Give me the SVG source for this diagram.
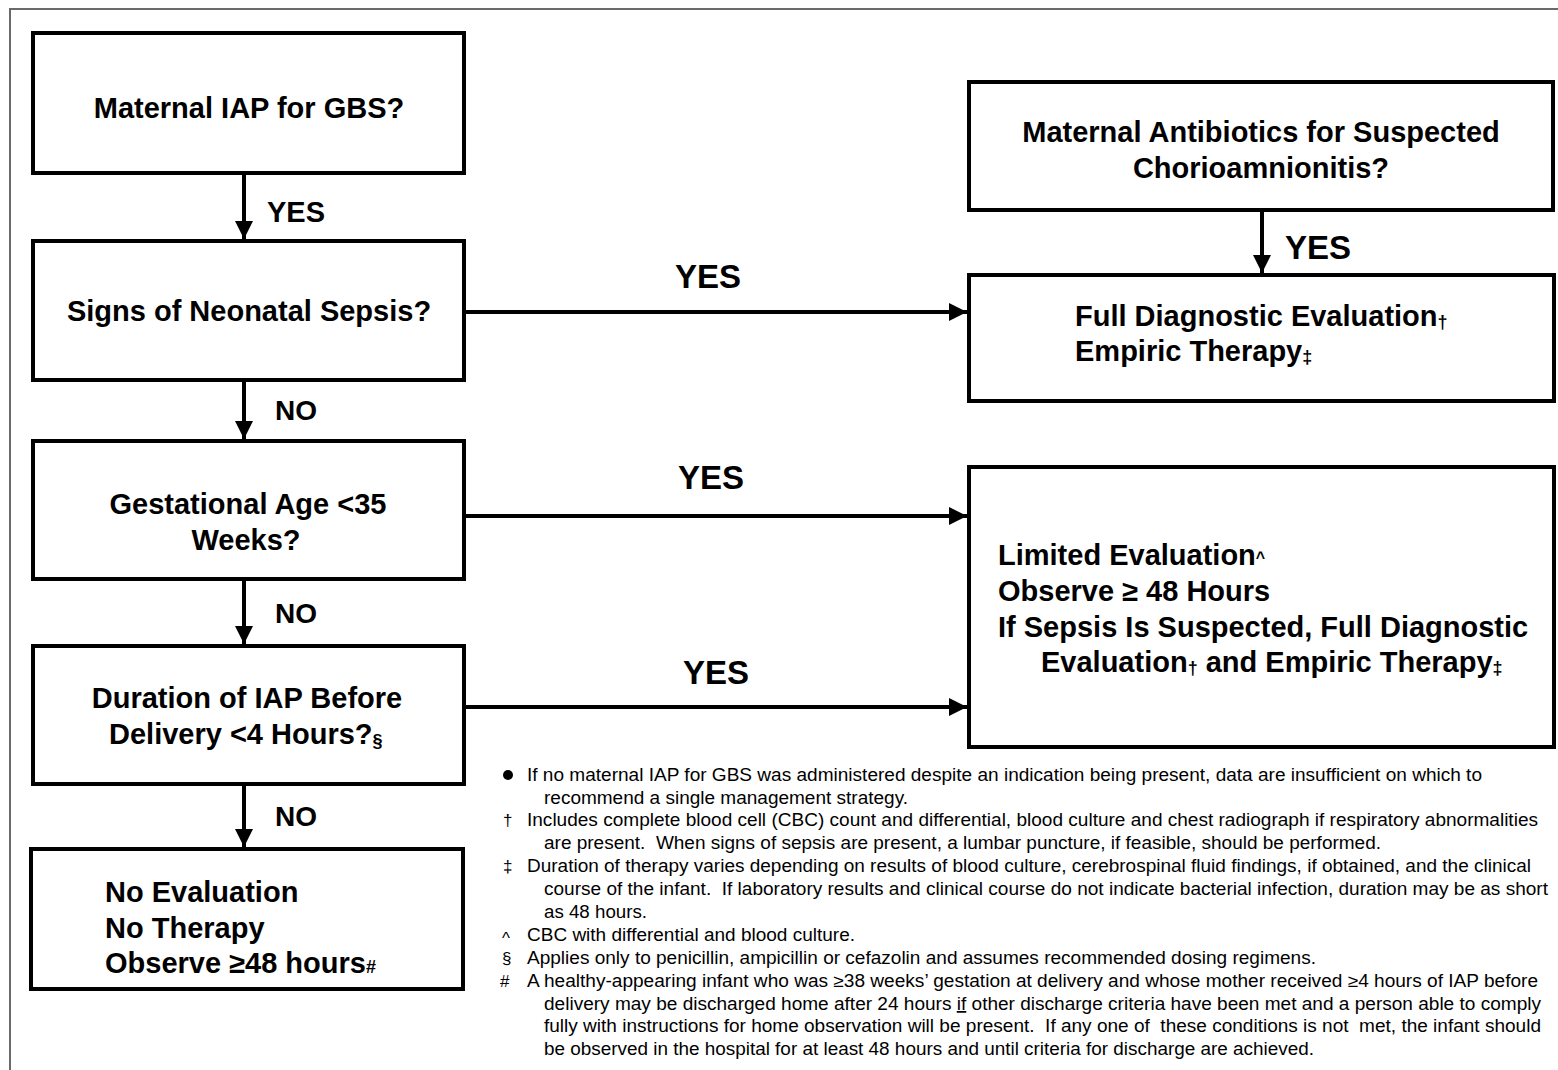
<svg xmlns="http://www.w3.org/2000/svg" width="1558" height="1070" viewBox="0 0 1558 1070">
<style>
.box{fill:#fff;stroke:#000;stroke-width:4}
.t{font-family:"Liberation Sans",Arial,sans-serif;font-weight:bold;font-size:29px;fill:#000}
.c{text-anchor:middle}
.lbl{font-family:"Liberation Sans",Arial,sans-serif;font-weight:bold;fill:#000}
.fn{font-family:"Liberation Sans Narrow","Liberation Sans",Arial,sans-serif;font-size:17.5px;fill:#000}
.mk{font-family:"Liberation Sans","DejaVu Sans",sans-serif;font-size:17px;fill:#000}
.con{stroke:#000;stroke-width:4;fill:none}
</style>
<defs>
<marker id="ah" markerUnits="userSpaceOnUse" markerWidth="18" markerHeight="18" refX="18" refY="9" orient="auto">
<path d="M0,0 L18,9 L0,18 z" fill="#000"/>
</marker>
</defs>
<rect width="1558" height="1070" fill="#fff"/>
<path d="M10,1070 V9 H1558" fill="none" stroke="#6a6a6a" stroke-width="2"/>

<g id="connectors">
<line class="con" x1="244" y1="175" x2="244" y2="239" marker-end="url(#ah)"/>
<line class="con" x1="244" y1="381" x2="244" y2="439" marker-end="url(#ah)"/>
<line class="con" x1="244" y1="581" x2="244" y2="644" marker-end="url(#ah)"/>
<line class="con" x1="244" y1="786" x2="244" y2="847" marker-end="url(#ah)"/>
<line class="con" x1="1262" y1="212" x2="1262" y2="273" marker-end="url(#ah)"/>
<line class="con" x1="466" y1="312" x2="967" y2="312" marker-end="url(#ah)"/>
<line class="con" x1="466" y1="516" x2="967" y2="516" marker-end="url(#ah)"/>
<line class="con" x1="466" y1="707" x2="967" y2="707" marker-end="url(#ah)"/>
<text class="lbl" x="267" y="222" font-size="29">YES</text>
<text class="lbl" x="275" y="420" font-size="28">NO</text>
<text class="lbl" x="275" y="623" font-size="28">NO</text>
<text class="lbl" x="275" y="826" font-size="28">NO</text>
<text class="lbl" x="1285" y="259" font-size="33">YES</text>
<text class="lbl" x="708" y="288" font-size="33" text-anchor="middle">YES</text>
<text class="lbl" x="711" y="489" font-size="33" text-anchor="middle">YES</text>
<text class="lbl" x="716" y="684" font-size="33" text-anchor="middle">YES</text>
</g>

<g id="n1">
<rect class="box" x="33" y="33" width="431" height="140"/>
<text class="t c" x="249" y="118">Maternal IAP for GBS?</text>
</g>
<g id="n2">
<rect class="box" x="33" y="241" width="431" height="139"/>
<text class="t c" x="249" y="321">Signs of Neonatal Sepsis?</text>
</g>
<g id="n3">
<rect class="box" x="33" y="441" width="431" height="138"/>
<text class="t c" x="248" y="514">Gestational Age &lt;35</text>
<text class="t c" x="246" y="550">Weeks?</text>
</g>
<g id="n4">
<rect class="box" x="33" y="646" width="431" height="138"/>
<text class="t c" x="247" y="708">Duration of IAP Before</text>
<text class="t" x="109" y="744">Delivery &lt;4 Hours?<tspan font-size="18" dy="3">§</tspan></text>
</g>
<g id="n5">
<rect class="box" x="31" y="849" width="432" height="140"/>
<text class="t" x="105" y="902">No Evaluation</text>
<text class="t" x="105" y="938">No Therapy</text>
<text class="t" x="105" y="973">Observe ≥48 hours<tspan font-size="18">#</tspan></text>
</g>
<g id="r1">
<rect class="box" x="969" y="82" width="584" height="128"/>
<text class="t c" x="1261" y="142">Maternal Antibiotics for Suspected</text>
<text class="t c" x="1261" y="178">Chorioamnionitis?</text>
</g>
<g id="r2">
<rect class="box" x="969" y="275" width="585" height="126"/>
<text class="t" x="1075" y="326">Full Diagnostic Evaluation<tspan font-size="18" dy="2">†</tspan></text>
<text class="t" x="1075" y="361">Empiric Therapy<tspan font-size="18" dy="2">‡</tspan></text>
</g>
<g id="r3">
<rect class="box" x="969" y="467" width="585" height="280"/>
<text class="t" x="998" y="565">Limited Evaluation<tspan font-size="16" dy="-2">^</tspan></text>
<text class="t" x="998" y="601">Observe ≥ 48 Hours</text>
<text class="t" x="998" y="637">If Sepsis Is Suspected, Full Diagnostic</text>
<text class="t" x="1041" y="672">Evaluation<tspan font-size="18" dy="2">†</tspan><tspan dy="-2"> and Empiric Therapy</tspan><tspan font-size="18" dy="2">‡</tspan></text>
</g>

<g id="footnotes">
<circle cx="508" cy="775" r="5" fill="#000"/>
<text class="mk" x="503" y="826">†</text>
<text class="mk" x="503" y="872">‡</text>
<text class="mk" x="502" y="944">^</text>
<text class="mk" x="502" y="964">§</text>
<text class="mk" x="500" y="987">#</text>
<text class="fn" x="527" y="781" textLength="955" lengthAdjust="spacingAndGlyphs">If no maternal IAP for GBS was administered despite an indication being present, data are insufficient on which to</text>
<text class="fn" x="544" y="804" textLength="364" lengthAdjust="spacingAndGlyphs">recommend a single management strategy.</text>
<text class="fn" x="527" y="826" textLength="1011" lengthAdjust="spacingAndGlyphs">Includes complete blood cell (CBC) count and differential, blood culture and chest radiograph if respiratory abnormalities</text>
<text class="fn" x="544" y="849" textLength="837" lengthAdjust="spacingAndGlyphs" xml:space="preserve">are present.  When signs of sepsis are present, a lumbar puncture, if feasible, should be performed.</text>
<text class="fn" x="527" y="872" textLength="1004" lengthAdjust="spacingAndGlyphs">Duration of therapy varies depending on results of blood culture, cerebrospinal fluid findings, if obtained, and the clinical</text>
<text class="fn" x="544" y="895" textLength="1004" lengthAdjust="spacingAndGlyphs" xml:space="preserve">course of the infant.  If laboratory results and clinical course do not indicate bacterial infection, duration may be as short</text>
<text class="fn" x="544" y="918" textLength="103" lengthAdjust="spacingAndGlyphs">as 48 hours.</text>
<text class="fn" x="527" y="941" textLength="328" lengthAdjust="spacingAndGlyphs">CBC with differential and blood culture.</text>
<text class="fn" x="527" y="964" textLength="789" lengthAdjust="spacingAndGlyphs">Applies only to penicillin, ampicillin or cefazolin and assumes recommended dosing regimens.</text>
<text class="fn" x="527" y="987" textLength="1011" lengthAdjust="spacingAndGlyphs">A healthy-appearing infant who was ≥38 weeks’ gestation at delivery and whose mother received ≥4 hours of IAP before</text>
<text class="fn" x="544" y="1010" textLength="997" lengthAdjust="spacingAndGlyphs">delivery may be discharged home after 24 hours <tspan text-decoration="underline">if</tspan> other discharge criteria have been met and a person able to comply</text>
<text class="fn" x="544" y="1032" textLength="997" lengthAdjust="spacingAndGlyphs" xml:space="preserve">fully with instructions for home observation will be present.  If any one of  these conditions is not  met, the infant should</text>
<text class="fn" x="544" y="1055" textLength="770" lengthAdjust="spacingAndGlyphs">be observed in the hospital for at least 48 hours and until criteria for discharge are achieved.</text>
</g>
</svg>
